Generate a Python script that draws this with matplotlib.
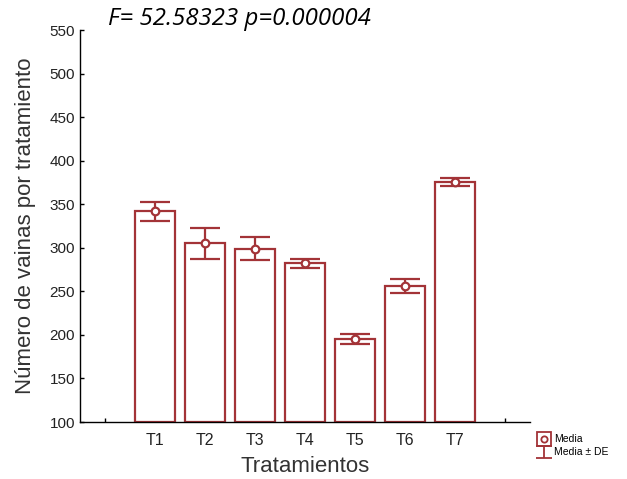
import numpy as np
import matplotlib.pyplot as plt
from matplotlib.lines import Line2D
from matplotlib.path import Path
from matplotlib.legend_handler import HandlerTuple

# Datos
tratamientos = ["T1", "T2", "T3", "T4", "T5", "T6", "T7"]
media = [342, 305, 299, 282, 195, 256, 375.5]
de = [11, 18, 13, 5, 5.5, 8, 5]

col = "#a33337"
plt.rcParams["font.family"] = ["Liberation Sans", "DejaVu Sans"]

fig = plt.figure(figsize=(6.27, 4.79), dpi=100)
ax = fig.add_axes([80/627, 57/479, 450/627, 392/479])

pos = np.arange(1, len(tratamientos) + 1)
ax.bar(pos, np.array(media) - 100, bottom=100, width=0.8, color="white",
       edgecolor=col, linewidth=1.6, zorder=2)
ax.errorbar(pos, media, yerr=de, fmt="o", color=col, ecolor=col,
            elinewidth=1.6, capsize=10.5, capthick=1.6, markersize=5.5,
            markerfacecolor="white", markeredgewidth=1.6, zorder=3)

ax.set_xlim(-0.5, 8.5)
ax.set_ylim(100, 550)
ax.set_yticks(np.arange(100, 551, 50))
ax.set_xticks(np.arange(0, 9))
ax.set_xticklabels([""] + tratamientos + [""])
ax.tick_params(direction="in", length=3, width=1, labelsize=11, colors="black",
               labelcolor="#222222")
ax.tick_params(axis="x", labelsize=11.5, pad=8)
for s in ["top", "right"]:
    ax.spines[s].set_visible(False)
ax.spines["left"].set_linewidth(1)
ax.spines["bottom"].set_linewidth(1)

ax.set_ylabel("Número de vainas por tratamiento", fontsize=16, color="#333333",
              labelpad=10)
ax.set_xlabel("Tratamientos", fontsize=16, color="#333333", labelpad=6)

fig.text(108/627, 1 - 19/479, "F= 52.58323 p=0.000004", fontsize=17.3,
         style="italic", family="Open Sans", va="center", ha="left")

# leyenda
sq = Line2D([], [], marker="s", markersize=9.5, markerfacecolor="white",
            markeredgecolor=col, markeredgewidth=1.3, linestyle="none")
ci = Line2D([], [], marker="o", markersize=4.5, markerfacecolor="white",
            markeredgecolor=col, markeredgewidth=1.3, linestyle="none")
ebar = Path([(-1, 0.8), (1, 0.8), (0, 0.8), (0, -0.8), (-1, -0.8), (1, -0.8)],
            [Path.MOVETO, Path.LINETO, Path.MOVETO, Path.LINETO,
             Path.MOVETO, Path.LINETO])
eb = Line2D([], [], marker=ebar, markersize=11, markeredgecolor=col,
            markeredgewidth=1.3, linestyle="none")
fig.legend([(sq, ci), eb], ["Media", "Media ± DE"],
           handler_map={tuple: HandlerTuple(ndivide=1)},
           loc="upper left", bbox_to_anchor=(535/627, 1 - 430/479),
           frameon=False, fontsize=7.5, handlelength=1.0, handletextpad=0.4,
           labelspacing=0.3, borderaxespad=0)

fig.savefig("out.png", dpi=100)
